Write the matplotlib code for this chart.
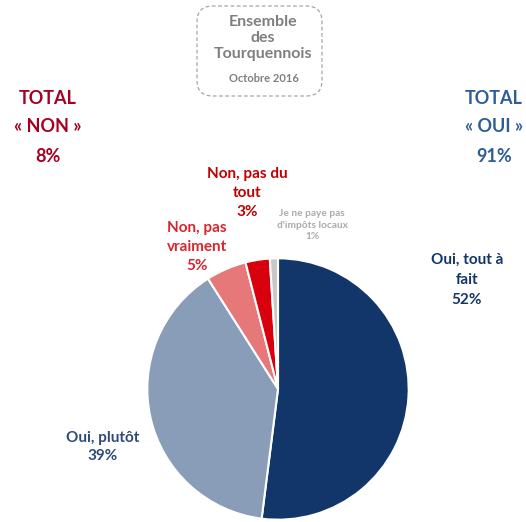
import matplotlib.pyplot as plt
from matplotlib.patches import FancyBboxPatch

labels = ["Oui, tout à\nfait", "Oui, plutôt", "Non, pas\nvraiment", "Non, pas du\ntout", "Je ne paye pas\nd'impôts locaux"]
values = [52, 39, 5, 3, 1]
colors = ['#12366A', '#8A9DB8', '#E6787A', '#D9000D', '#C8C8C8']

total_non = 8
total_oui = 91

W, H = 526, 522
fig = plt.figure(figsize=(W / 100, H / 100), dpi=100)

# pie axes, centre ~ (278, 389) px, radius ~132 px
cx, cy, r = 278, 389, 132
ax = fig.add_axes([(cx - r) / W, (H - cy - r) / H, 2 * r / W, 2 * r / H])
ax.pie(values, colors=colors, startangle=90, counterclock=False,
       wedgeprops=dict(edgecolor='white', linewidth=1.5), radius=1)
ax.set_xlim(-1.01, 1.01)
ax.set_ylim(-1.01, 1.01)
ax.set_aspect('equal')
ax.axis('off')

def txt(x, y, s, color, size=11, **kw):
    fig.text(x / W, 1 - y / H, s, color=color, fontsize=size, ha='center', va='center',
             fontfamily='Lato', fontweight='bold', **kw)

# header box
box = FancyBboxPatch((197 / W, 1 - 96 / H), 125 / W, 90 / H, transform=fig.transFigure,
                     boxstyle='round,pad=0,rounding_size=0.03', fill=False,
                     edgecolor='#A6A6A6', linestyle=(0, (3, 2)), linewidth=0.9)
fig.patches.append(box)
txt(263, 38, "Ensemble\ndes\nTourquennois", '#7F7F7F', size=11.5, linespacing=1.2)
txt(264, 79, "Octobre 2016", '#7F7F7F', size=8)

# totals
txt(48, 98, "TOTAL", '#A50021', size=13)
txt(48, 126, "« NON »", '#A50021', size=13)
txt(48, 157, f"{total_non}%", '#A50021', size=13)
txt(494, 98, "TOTAL", '#2E5C9A', size=13)
txt(494, 126, "« OUI »", '#2E5C9A', size=13)
txt(494, 157, f"{total_oui}%", '#2E5C9A', size=13)

# slice labels
txt(467, 280, f"{labels[0]}\n{values[0]}%", '#12366A', size=11, linespacing=1.55)
txt(103, 447, f"{labels[1]}\n{values[1]}%", '#2E4A7A', size=11, linespacing=1.45)
txt(197, 247, f"{labels[2]}\n{values[2]}%", '#D9252D', size=11, linespacing=1.45)
txt(247, 193, f"{labels[3]}\n{values[3]}%", '#C00000', size=11, linespacing=1.45)
txt(312, 225, f"{labels[4]}\n{values[4]}%", '#ABABAB', size=7.3, linespacing=1.35)

fig.savefig('out.png', dpi=100)
